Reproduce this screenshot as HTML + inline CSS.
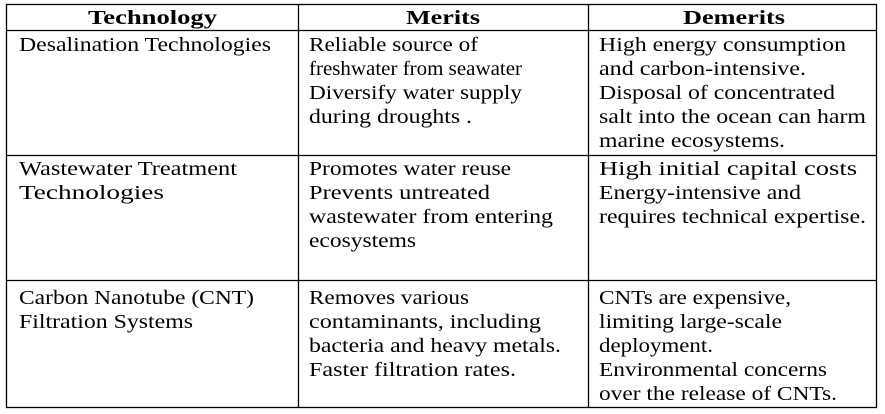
<!DOCTYPE html>
<html><head><meta charset="utf-8"><style>
html,body{margin:0;padding:0;background:#fff;width:885px;height:414px;overflow:hidden}
svg text{font-family:"Liberation Serif","DejaVu Serif",serif;font-size:20px;fill:#000}
svg text.h{font-weight:bold}
</style></head><body>
<svg width="885" height="414">
<g stroke="#000" stroke-width="1.3">
<rect x="6.5" y="4.5" width="870" height="403" fill="none"/>
<line x1="298.5" y1="4" x2="298.5" y2="408"/>
<line x1="588.5" y1="4" x2="588.5" y2="408"/>
<line x1="6" y1="30.5" x2="877" y2="30.5"/>
<line x1="6" y1="155.5" x2="877" y2="155.5"/>
<line x1="6" y1="280.5" x2="877" y2="280.5"/>
</g>
<g>
<text class="h" x="88" y="24" textLength="129" lengthAdjust="spacingAndGlyphs">Technology</text>
<text class="h" x="406" y="24" textLength="74" lengthAdjust="spacingAndGlyphs">Merits</text>
<text class="h" x="683" y="24" textLength="102" lengthAdjust="spacingAndGlyphs">Demerits</text>
</g>
<g lengthAdjust="spacingAndGlyphs">
<text x="19" y="51" textLength="252" lengthAdjust="spacingAndGlyphs">Desalination Technologies</text>
<text x="309" y="51" textLength="169" lengthAdjust="spacingAndGlyphs">Reliable source of</text>
<text x="309" y="75" textLength="213" lengthAdjust="spacingAndGlyphs">freshwater from seawater</text>
<text x="309" y="99" textLength="213" lengthAdjust="spacingAndGlyphs">Diversify water supply</text>
<text x="309" y="123" textLength="163" lengthAdjust="spacingAndGlyphs">during droughts .</text>
<text x="599" y="51" textLength="247" lengthAdjust="spacingAndGlyphs">High energy consumption</text>
<text x="599" y="75" textLength="207" lengthAdjust="spacingAndGlyphs">and carbon-intensive.</text>
<text x="599" y="99" textLength="236" lengthAdjust="spacingAndGlyphs">Disposal of concentrated</text>
<text x="599" y="123" textLength="267" lengthAdjust="spacingAndGlyphs">salt into the ocean can harm</text>
<text x="599" y="147" textLength="186" lengthAdjust="spacingAndGlyphs">marine ecosystems.</text>
</g>
<g>
<text x="19" y="175" textLength="218" lengthAdjust="spacingAndGlyphs">Wastewater Treatment</text>
<text x="19" y="199" textLength="145" lengthAdjust="spacingAndGlyphs">Technologies</text>
<text x="309" y="175" textLength="202" lengthAdjust="spacingAndGlyphs">Promotes water reuse</text>
<text x="309" y="199" textLength="181" lengthAdjust="spacingAndGlyphs">Prevents untreated</text>
<text x="309" y="223" textLength="244" lengthAdjust="spacingAndGlyphs">wastewater from entering</text>
<text x="309" y="247" textLength="107" lengthAdjust="spacingAndGlyphs">ecosystems</text>
<text x="599" y="175" textLength="258" lengthAdjust="spacingAndGlyphs">High initial capital costs</text>
<text x="599" y="199" textLength="202" lengthAdjust="spacingAndGlyphs">Energy-intensive and</text>
<text x="599" y="223" textLength="267" lengthAdjust="spacingAndGlyphs">requires technical expertise.</text>
</g>
<g>
<text x="19" y="304" textLength="235" lengthAdjust="spacingAndGlyphs">Carbon Nanotube (CNT)</text>
<text x="19" y="328" textLength="174" lengthAdjust="spacingAndGlyphs">Filtration Systems</text>
<text x="309" y="304" textLength="160" lengthAdjust="spacingAndGlyphs">Removes various</text>
<text x="309" y="328" textLength="232" lengthAdjust="spacingAndGlyphs">contaminants, including</text>
<text x="309" y="352" textLength="252" lengthAdjust="spacingAndGlyphs">bacteria and heavy metals.</text>
<text x="309" y="376" textLength="207" lengthAdjust="spacingAndGlyphs">Faster filtration rates.</text>
<text x="599" y="304" textLength="192" lengthAdjust="spacingAndGlyphs">CNTs are expensive,</text>
<text x="599" y="328" textLength="183" lengthAdjust="spacingAndGlyphs">limiting large-scale</text>
<text x="599" y="352" textLength="114" lengthAdjust="spacingAndGlyphs">deployment.</text>
<text x="599" y="376" textLength="228" lengthAdjust="spacingAndGlyphs">Environmental concerns</text>
<text x="599" y="400" textLength="238" lengthAdjust="spacingAndGlyphs">over the release of CNTs.</text>
</g>
</svg>
</body></html>
